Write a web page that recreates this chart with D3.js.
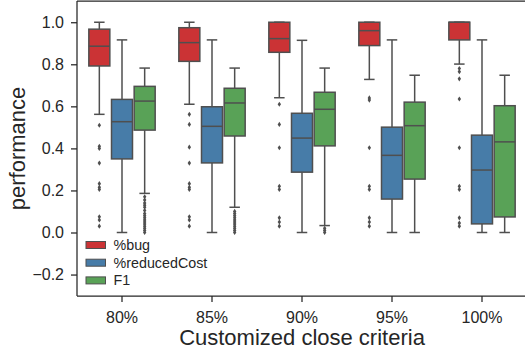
<!DOCTYPE html>
<html>
<head>
<meta charset="utf-8">
<script src="https://cdn.jsdelivr.net/npm/d3@7"></script>
<style>
  body { margin: 0; background: #fff; }
  svg { font-family: "Liberation Sans", Arial, sans-serif; }
</style>
</head>
<body>
<svg id="chart" width="525" height="356"></svg>
<script>
// box stats per category: [lowWhisker, q1, median, q3, highWhisker]
const categories = ['80%', '85%', '90%', '95%', '100%'];
const seriesNames = ['%bug', '%reducedCost', 'F1'];
const seriesColors = ['#cb3335', '#477ca8', '#59a257'];

const bugBox = [
  [0.562, 0.792, 0.886, 0.967, 1.0],
  [0.61, 0.814, 0.903, 0.974, 1.0],
  [0.641, 0.857, 0.922, 1.0, 1.0],
  [0.728, 0.889, 0.96, 1.0, 1.0],
  [0.801, 0.916, 1.0, 1.0, 1.0]
];
const costBox = [
  [0, 0.35, 0.527, 0.633, 0.916],
  [0, 0.331, 0.505, 0.598, 0.916],
  [0, 0.287, 0.449, 0.567, 0.914],
  [0, 0.159, 0.367, 0.501, 0.916],
  [0, 0.041, 0.297, 0.463, 0.916]
];
const f1Box = [
  [0.186, 0.487, 0.625, 0.695, 0.782],
  [0.12, 0.459, 0.616, 0.686, 0.782],
  [0.033, 0.412, 0.586, 0.667, 0.782],
  [0, 0.254, 0.508, 0.62, 0.748],
  [0, 0.074, 0.431, 0.603, 0.748]
];

const bugOutliers = [
  [0.51, 0.41, 0.40, 0.33, 0.232, 0.215, 0.205, 0.075, 0.06, 0.03],
  [0.562, 0.514, 0.406, 0.33, 0.232, 0.215, 0.205, 0.075, 0.06, 0.03],
  [0.61, 0.514, 0.403, 0.22, 0.205, 0.07, 0.05, 0.03],
  [0.64, 0.63, 0.403, 0.22, 0.205, 0.07, 0.05, 0.03],
  [0.78, 0.765, 0.731, 0.635, 0.403, 0.22, 0.205, 0.07, 0.045, 0.03]
];
const costOutliers = [[], [], [], [], []];
const f1Outliers = [
  [0.17, 0.155, 0.14, 0.13, 0.12, 0.105, 0.09, 0.08, 0.07, 0.06, 0.05, 0.04, 0.03, 0.02, 0.01, 0.0],
  [0.10, 0.09, 0.08, 0.07, 0.06, 0.05, 0.04, 0.03, 0.02, 0.01, 0.0],
  [0.02, 0.01, 0.0],
  [],
  []
];

const yTicks = [-0.2, 0.0, 0.2, 0.4, 0.6, 0.8, 1.0];

const boxes = [bugBox, costBox, f1Box];
const outliers = [bugOutliers, costOutliers, f1Outliers];

const margin = {left: 77, top: 1, right: -2, bottom: 60};
const svg = d3.select('#chart');
const W = 525, H = 356;
const lineColor = '#4f4f4f';
const spineColor = '#262626';

const x = d3.scaleBand().domain(categories).range([margin.left, W - margin.right]).padding(0);
const y = d3.scaleLinear().domain([-0.302, 1.101]).range([H - margin.bottom, margin.top]);
const hue = d3.scaleBand().domain(seriesNames).range([-34, 34]);
const boxW = 21;

// axes
const yAxis = d3.axisLeft(y).tickValues(yTicks).tickFormat(d3.format('.1f')).tickSize(6).tickPadding(6);
const xAxis = d3.axisBottom(x).tickSize(6).tickPadding(6);

const gy = svg.append('g').attr('transform', `translate(${margin.left},0)`).call(yAxis);
const gx = svg.append('g').attr('transform', `translate(0,${H - margin.bottom})`).call(xAxis);
[gx, gy].forEach(g => {
  g.selectAll('.domain').remove();
  g.selectAll('line').attr('stroke', spineColor).attr('stroke-width', 1.25);
  g.selectAll('text').attr('fill', spineColor).style('font-size', '16px')
    .style('font-family', '"Liberation Sans", Arial, sans-serif');
});
gx.selectAll('text').attr('dy', '0.95em');
gy.selectAll('text').attr('x', -13);

// spines
svg.append('line').attr('x1', margin.left).attr('x2', margin.left)
  .attr('y1', margin.top).attr('y2', H - margin.bottom)
  .attr('stroke', spineColor).attr('stroke-width', 1.25);
svg.append('line').attr('x1', margin.left).attr('x2', W)
  .attr('y1', H - margin.bottom).attr('y2', H - margin.bottom)
  .attr('stroke', spineColor).attr('stroke-width', 1.25);
svg.append('line').attr('x1', margin.left).attr('x2', W)
  .attr('y1', margin.top).attr('y2', margin.top)
  .attr('stroke', spineColor).attr('stroke-width', 1.25);

// boxes
const plot = svg.append('g');
seriesNames.forEach((s, si) => {
  categories.forEach((c, ci) => {
    const [lo, q1, med, q3, hi] = boxes[si][ci];
    const cx = x(c) + x.bandwidth() / 2 + hue(s) + hue.bandwidth() / 2;
    const g = plot.append('g');
    // whiskers
    g.append('line').attr('x1', cx).attr('x2', cx).attr('y1', y(q3)).attr('y2', y(hi));
    g.append('line').attr('x1', cx).attr('x2', cx).attr('y1', y(q1)).attr('y2', y(lo));
    g.append('line').attr('x1', cx - boxW / 4).attr('x2', cx + boxW / 4).attr('y1', y(hi)).attr('y2', y(hi));
    g.append('line').attr('x1', cx - boxW / 4).attr('x2', cx + boxW / 4).attr('y1', y(lo)).attr('y2', y(lo));
    g.selectAll('line').attr('stroke', lineColor).attr('stroke-width', 1.5);
    g.append('rect')
      .attr('x', cx - boxW / 2).attr('width', boxW)
      .attr('y', y(q3)).attr('height', Math.max(0, y(q1) - y(q3)))
      .attr('fill', seriesColors[si]).attr('stroke', lineColor).attr('stroke-width', 1.5);
    g.append('line').attr('x1', cx - boxW / 2).attr('x2', cx + boxW / 2)
      .attr('y1', y(med)).attr('y2', y(med))
      .attr('stroke', lineColor).attr('stroke-width', 1.5);
    // fliers
    g.selectAll('path.flier').data(outliers[si][ci]).enter()
      .append('path').classed('flier', true)
      .attr('d', 'M0,-2.6L1.7,0L0,2.6L-1.7,0Z')
      .attr('transform', d => `translate(${cx},${y(d)})`)
      .attr('fill', lineColor);
  });
});

// axis titles
svg.append('text').attr('x', (margin.left + W - margin.right) / 2).attr('y', 345)
  .attr('text-anchor', 'middle').style('font-size', '22px').attr('fill', spineColor)
  .text('Customized close criteria');
svg.append('text').attr('transform', `translate(25,${(margin.top + H - margin.bottom) / 2}) rotate(-90)`)
  .attr('text-anchor', 'middle').style('font-size', '22px').attr('fill', spineColor)
  .text('performance');

// legend
const legend = svg.append('g').attr('transform', 'translate(86,245)');
seriesNames.forEach((s, i) => {
  const row = legend.append('g').attr('transform', `translate(0,${i * 17.7})`);
  row.append('rect').attr('x', 0).attr('y', -3.5).attr('width', 19.5).attr('height', 7)
    .attr('fill', seriesColors[i]).attr('stroke', lineColor).attr('stroke-width', 1);
  row.append('text').attr('x', 27.5).attr('y', 0).attr('dy', '0.35em')
    .style('font-size', '14.3px').attr('fill', spineColor).text(s);
});
</script>
</body>
</html>
